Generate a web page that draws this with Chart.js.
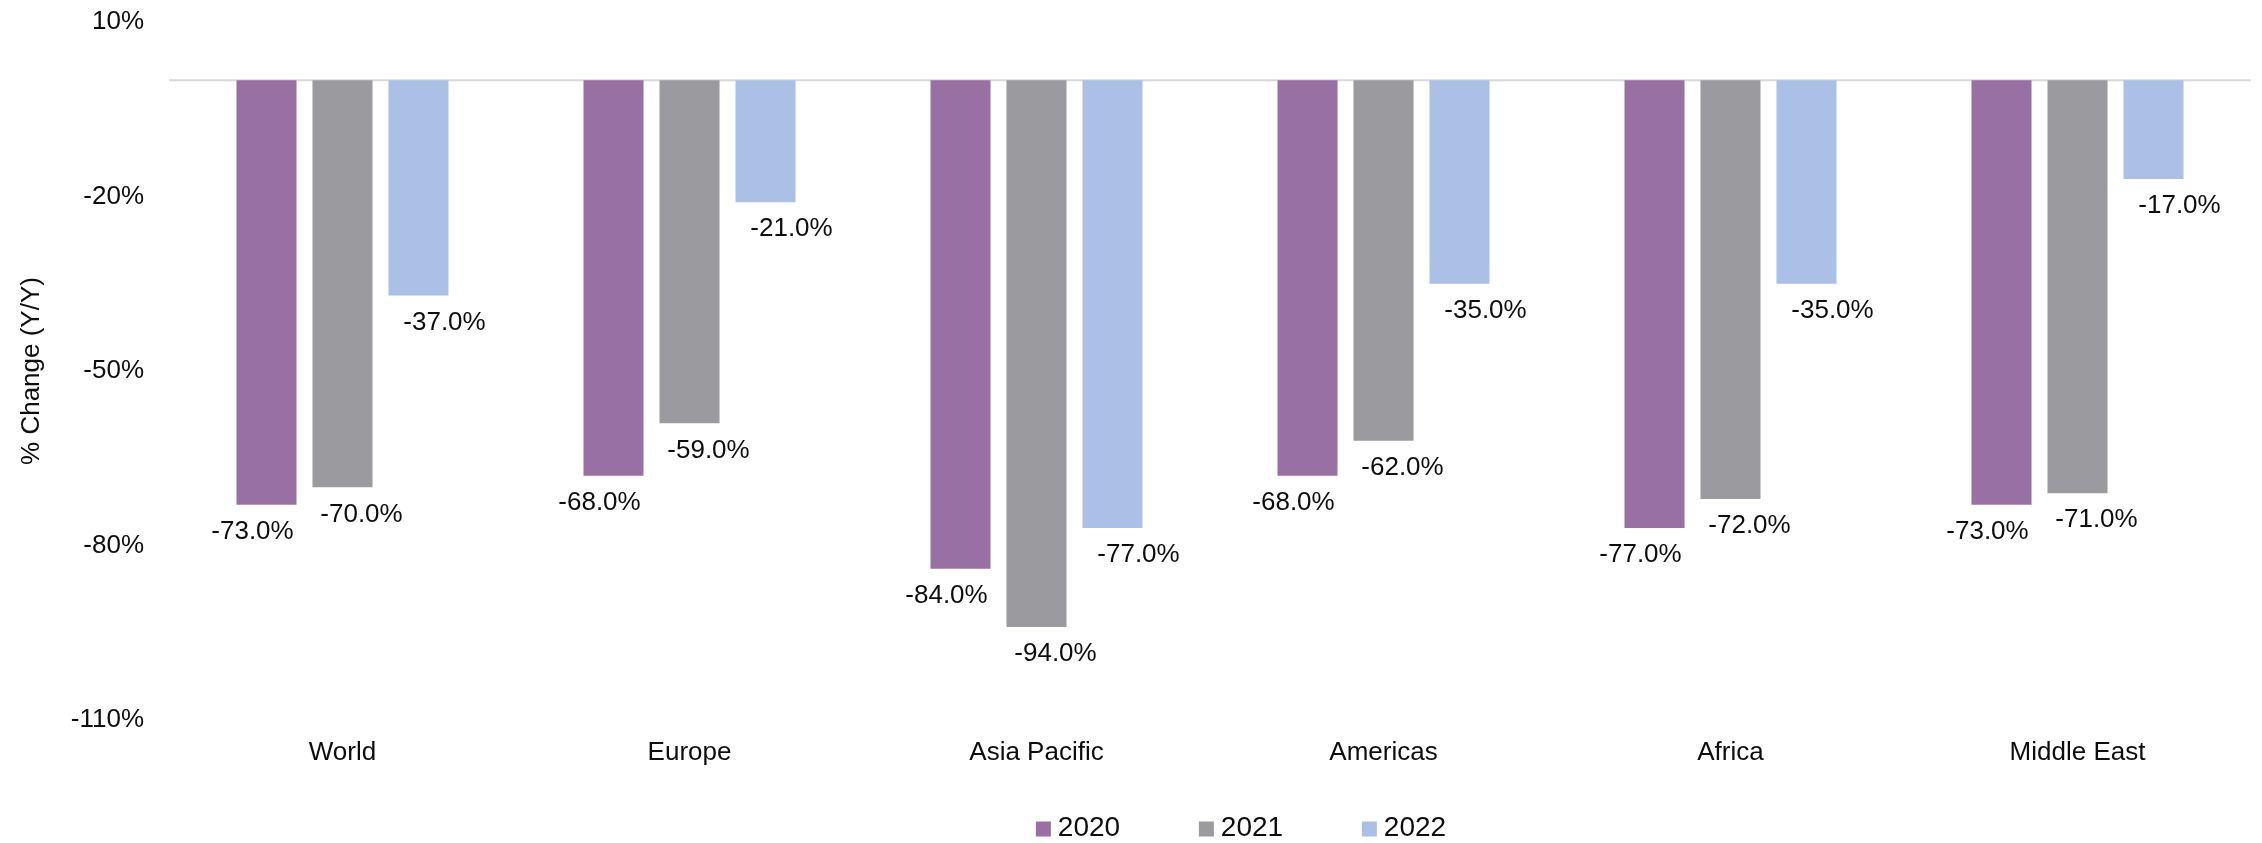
<!DOCTYPE html>
<html>
<head>
<meta charset="utf-8">
<script src="https://cdn.jsdelivr.net/npm/chart.js@4/dist/chart.umd.min.js"></script>
<style>
  html, body { margin: 0; padding: 0; background: #fff; }
  #wrap { width: 2262px; height: 843px; }
</style>
</head>
<body>
<div id="wrap"><canvas id="regions-chart" width="2262" height="843"></canvas></div>
<script>
const regions = ['World', 'Europe', 'Asia Pacific', 'Americas', 'Africa', 'Middle East'];
const years = ['2020', '2021', '2022'];
const change2020 = [-73, -68, -84, -68, -77, -73];
const change2021 = [-70, -59, -94, -62, -72, -71];
const change2022 = [-37, -21, -77, -35, -35, -17];
const yTicks = [10, -20, -50, -80, -110];

const colors = ['#9970a4', '#9b9b9f', '#abc0e6'];
// labels sit a little off-centre from their bars, per series
const labelShift = [-14, 19, 26];
const FONT = "'Liberation Sans', Arial, sans-serif";

// light rule across the plot at 0%
const zeroLine = {
    id: 'zeroLine',
    beforeDatasetsDraw(chart) {
        const { ctx, chartArea, scales } = chart;
        const y = scales.y.getPixelForValue(0);
        ctx.save();
        ctx.strokeStyle = '#d9d9d9';
        ctx.lineWidth = 2;
        ctx.beginPath();
        ctx.moveTo(chartArea.left, y);
        ctx.lineTo(chartArea.right, y);
        ctx.stroke();
        ctx.restore();
    }
};

// value text under the end of each bar
const barValues = {
    id: 'barValues',
    afterDatasetsDraw(chart) {
        const { ctx } = chart;
        ctx.save();
        ctx.font = '26px ' + FONT;
        ctx.fillStyle = '#0d0d0d';
        ctx.textAlign = 'center';
        ctx.textBaseline = 'middle';
        chart.data.datasets.forEach((ds, i) => {
            chart.getDatasetMeta(i).data.forEach((bar, j) => {
                const v = ds.data[j];
                ctx.fillText(v.toFixed(1) + '%', bar.x + labelShift[i], bar.y + 27);
            });
        });
        ctx.restore();
    }
};

// legend row along the bottom edge
const bottomLegend = {
    id: 'bottomLegend',
    afterDraw(chart) {
        const { ctx, chartArea } = chart;
        const box = 15, gap = 7, step = 163;
        ctx.save();
        ctx.font = '28px ' + FONT;
        ctx.textBaseline = 'middle';
        const sets = chart.data.datasets;
        const lastW = ctx.measureText(sets[sets.length - 1].label).width;
        const total = step * (sets.length - 1) + box + gap + lastW;
        let x = (chartArea.left + chartArea.right) / 2 + 31 - total / 2;
        const yc = 828;
        sets.forEach(ds => {
            ctx.fillStyle = ds.backgroundColor;
            ctx.fillRect(x, yc - box / 2 + 1, box, box);
            ctx.fillStyle = '#0d0d0d';
            ctx.fillText(ds.label, x + box + gap, yc);
            x += step;
        });
        ctx.restore();
    }
};

new Chart(document.getElementById('regions-chart').getContext('2d'), {
    type: 'bar',
    data: {
        labels: regions,
        datasets: [change2020, change2021, change2022].map((vals, i) => ({
            label: years[i],
            data: vals,
            backgroundColor: colors[i],
            borderWidth: 0,
            categoryPercentage: 0.657,
            barPercentage: 0.79
        }))
    },
    options: {
        responsive: false,
        animation: false,
        layout: { padding: { top: 22, right: 11, left: 0, bottom: 0 } },
        plugins: {
            legend: { display: false },
            tooltip: { enabled: false }
        },
        scales: {
            x: {
                grid: { display: false, drawTicks: false },
                border: { display: false },
                ticks: {
                    font: { family: FONT, size: 26 },
                    color: '#0d0d0d',
                    padding: 17
                },
                afterFit(scale) { scale.height = 123; }
            },
            y: {
                min: -110,
                max: 10,
                grid: { display: false, drawTicks: false },
                border: { display: false },
                afterBuildTicks(scale) {
                    scale.ticks = yTicks.map(v => ({ value: v }));
                },
                ticks: {
                    font: { family: FONT, size: 26 },
                    color: '#0d0d0d',
                    padding: 25,
                    callback: v => v + '%'
                },
                title: {
                    display: true,
                    text: '% Change (Y/Y)',
                    font: { family: FONT, size: 26 },
                    color: '#0d0d0d',
                    padding: { top: 16, bottom: 0 }
                },
                afterFit(scale) {
                    scale.width = 169;
                    scale.paddingTop = 0;
                    scale.paddingBottom = 0;
                }
            }
        }
    },
    plugins: [zeroLine, barValues, bottomLegend]
});
</script>
</body>
</html>
